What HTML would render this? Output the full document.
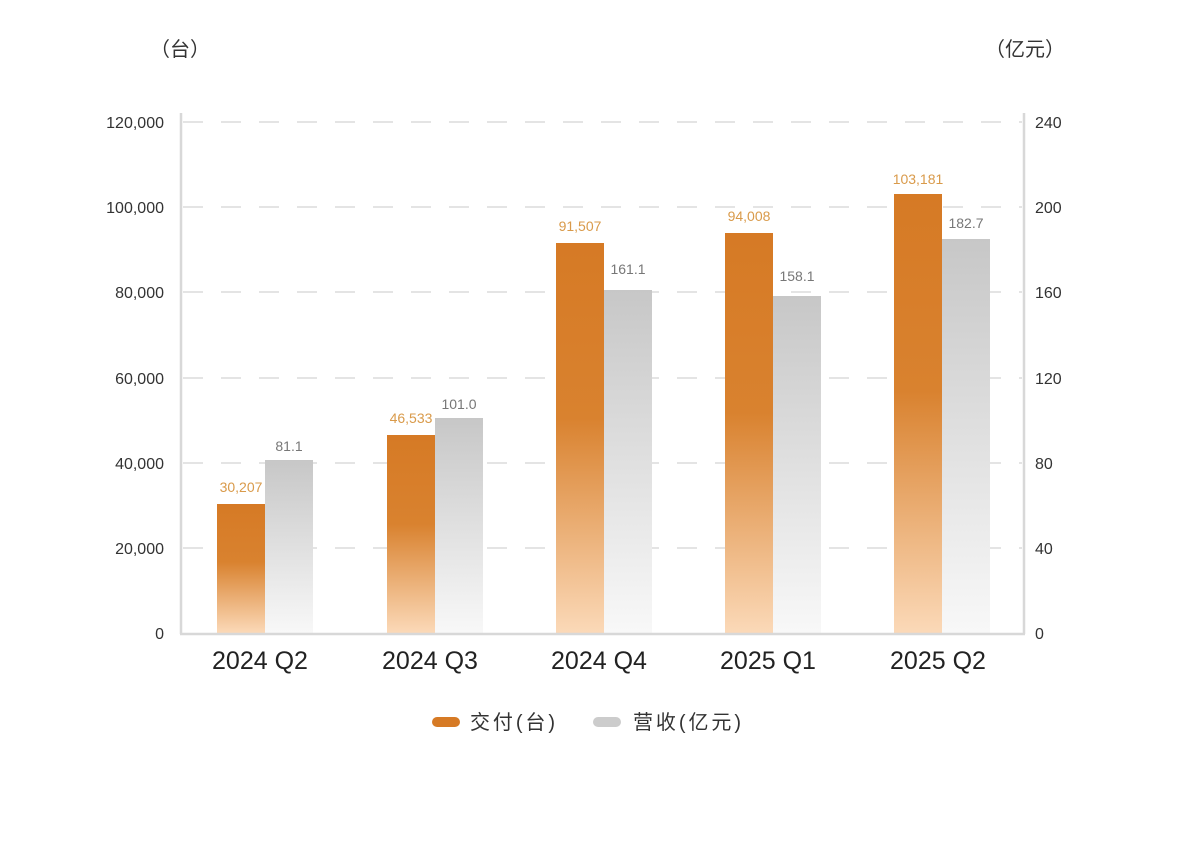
<!DOCTYPE html>
<html><head><meta charset="utf-8"><style>
html,body{margin:0;padding:0;background:#fff;}
svg{display:block;font-family:"Liberation Sans","Noto Sans CJK SC",sans-serif;}
</style></head><body>
<svg width="1182" height="842" viewBox="0 0 1182 842">
<defs>
<linearGradient id="og" x1="0" y1="0" x2="0" y2="1">
<stop offset="0" stop-color="#d67a25"/><stop offset="0.45" stop-color="#d9822f"/><stop offset="1" stop-color="#fbd9b8"/>
</linearGradient>
<linearGradient id="gg" x1="0" y1="0" x2="0" y2="1">
<stop offset="0" stop-color="#c7c7c7"/><stop offset="1" stop-color="#f8f8f8"/>
</linearGradient>
</defs>
<g stroke="#dcdcdc" stroke-width="1.5" stroke-dasharray="20 18">
<line x1="183" y1="122" x2="1022" y2="122"/>
<line x1="183" y1="207" x2="1022" y2="207"/>
<line x1="183" y1="292" x2="1022" y2="292"/>
<line x1="183" y1="378" x2="1022" y2="378"/>
<line x1="183" y1="463" x2="1022" y2="463"/>
<line x1="183" y1="548" x2="1022" y2="548"/>
</g>
<g fill="url(#og)">
<rect x="217" y="504" width="48" height="129"/>
<rect x="387" y="435" width="48" height="198"/>
<rect x="556" y="243" width="48" height="390"/>
<rect x="725" y="233" width="48" height="400"/>
<rect x="894" y="194" width="48" height="439"/>
</g>
<g fill="url(#gg)">
<rect x="265" y="460" width="48" height="173"/>
<rect x="435" y="418" width="48" height="215"/>
<rect x="604" y="290" width="48" height="343"/>
<rect x="773" y="296" width="48" height="337"/>
<rect x="942" y="239" width="48" height="394"/>
</g>
<g stroke="#d8d8d8" stroke-width="2.5" fill="none">
<line x1="181" y1="113" x2="181" y2="634"/>
<line x1="1024" y1="113" x2="1024" y2="634"/>
<line x1="180" y1="634" x2="1025" y2="634"/>
</g>
<g font-size="16" fill="#333" text-anchor="end">
<text x="164" y="128">120,000</text><text x="164" y="213">100,000</text><text x="164" y="298">80,000</text>
<text x="164" y="384">60,000</text><text x="164" y="469">40,000</text><text x="164" y="554">20,000</text><text x="164" y="639">0</text>
</g>
<g font-size="16" fill="#333">
<text x="1035" y="128">240</text><text x="1035" y="213">200</text><text x="1035" y="298">160</text>
<text x="1035" y="384">120</text><text x="1035" y="469">80</text><text x="1035" y="554">40</text><text x="1035" y="639">0</text>
</g>
<text x="180" y="56" font-size="20" fill="#333" text-anchor="middle">（台）</text>
<text x="1025" y="56" font-size="20" fill="#333" text-anchor="middle">（亿元）</text>
<g font-size="14" fill="#d99a4a" text-anchor="middle">
<text x="241" y="492">30,207</text><text x="411" y="423">46,533</text><text x="580" y="231">91,507</text>
<text x="749" y="221">94,008</text><text x="918" y="184">103,181</text>
</g>
<g font-size="14" fill="#777" text-anchor="middle">
<text x="289" y="451">81.1</text><text x="459" y="409">101.0</text><text x="628" y="274">161.1</text>
<text x="797" y="281">158.1</text><text x="966" y="228">182.7</text>
</g>
<g font-size="25" fill="#222" text-anchor="middle">
<text x="260" y="669">2024 Q2</text><text x="430" y="669">2024 Q3</text><text x="599" y="669">2024 Q4</text>
<text x="768" y="669">2025 Q1</text><text x="938" y="669">2025 Q2</text>
</g>
<rect x="432" y="717" width="28" height="10" rx="5" fill="#d67a25"/>
<text x="470" y="729" font-size="20" fill="#333" textLength="85" lengthAdjust="spacing">交付(台)</text>
<rect x="593" y="717" width="28" height="10" rx="5" fill="#cccccc"/>
<text x="633" y="729" font-size="20" fill="#333" textLength="108" lengthAdjust="spacing">营收(亿元)</text>
</svg>
</body></html>
